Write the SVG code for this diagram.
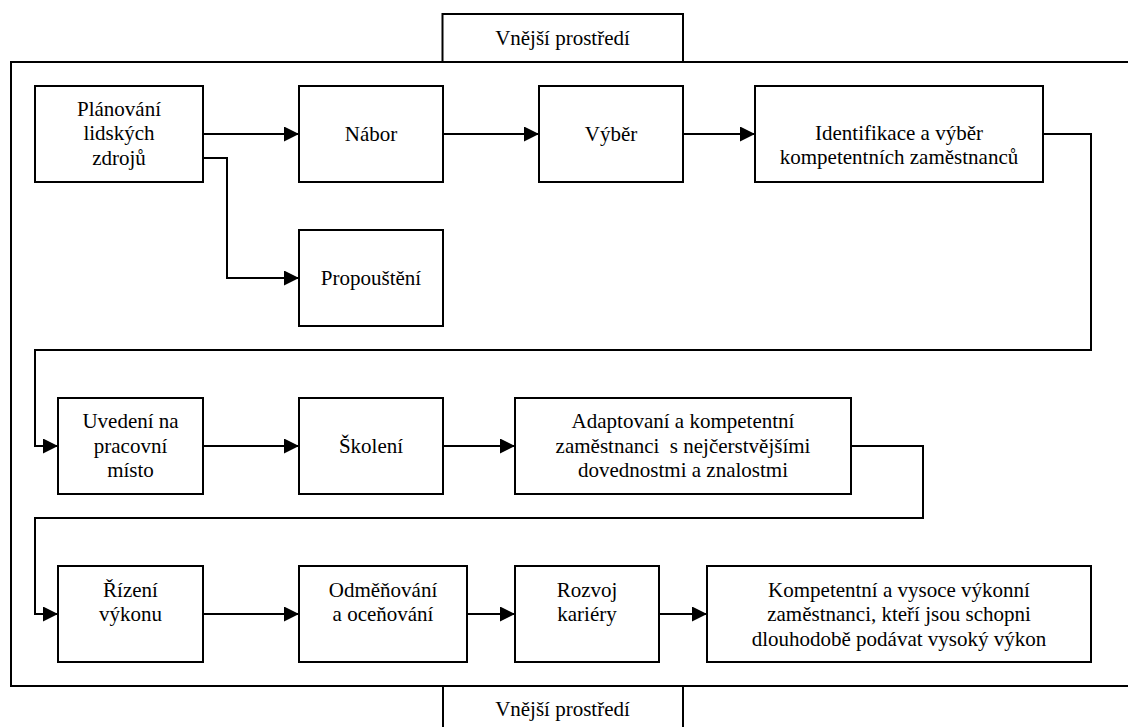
<svg xmlns="http://www.w3.org/2000/svg" width="1128" height="727" viewBox="0 0 1128 727">
<style>
.box{fill:#fff;stroke:#000;stroke-width:2}
.frame{fill:none;stroke:#000;stroke-width:2}
.conn{fill:none;stroke:#000;stroke-width:2;marker-end:url(#arr)}
.plain{fill:none;stroke:#000;stroke-width:2}
</style>
<defs>
<marker id="arr" markerUnits="userSpaceOnUse" markerWidth="16" markerHeight="16" refX="15" refY="7.5" orient="auto">
<path d="M0,0 L15,7.5 L0,15 Z" fill="#000"/>
</marker>
</defs>
<rect width="1128" height="727" fill="#fff"/>
<g font-family="'Liberation Serif', 'DejaVu Serif', serif" font-size="21" text-anchor="middle" fill="#000">
<g id="environment">
<path class="frame" d="M1140,62 H11 V686 H1140"/>
<g id="env-top">
<rect class="box" x="442.5" y="14" width="240.5" height="48"/>
<text x="562.5" y="45">Vnější prostředí</text>
</g>
<g id="env-bottom">
<path class="frame" d="M443,686 V740 M683,686 V740"/>
<text x="562.5" y="716">Vnější prostředí</text>
</g>
</g>
<g id="connectors">
<path class="conn" d="M203,134 H299"/>
<path class="plain" d="M203,158 H227 V278"/>
<path class="conn" d="M226,278 H299"/>
<path class="conn" d="M443,134 H539"/>
<path class="conn" d="M683,134 H755"/>
<path class="conn" d="M1043,134 H1091 V350 H35 V446 H58"/>
<path class="conn" d="M203,446 H299"/>
<path class="conn" d="M443,446 H515"/>
<path class="conn" d="M851,446 H923 V518 H35 V614 H58"/>
<path class="conn" d="M203,614 H299"/>
<path class="conn" d="M467,614 H515"/>
<path class="conn" d="M659,614 H707"/>
</g>
<g id="planovani">
<rect class="box" x="35" y="86" width="168" height="96"/>
<text x="119" y="116">Plánování</text>
<text x="119" y="140">lidských</text>
<text x="119" y="165">zdrojů</text>
</g>
<g id="nabor">
<rect class="box" x="299" y="86" width="144" height="96"/>
<text x="371" y="141">Nábor</text>
</g>
<g id="vyber">
<rect class="box" x="539" y="86" width="144" height="96"/>
<text x="611" y="141">Výběr</text>
</g>
<g id="identifikace">
<rect class="box" x="755" y="86" width="288" height="96"/>
<text x="899" y="140">Identifikace a výběr</text>
<text x="899" y="164">kompetentních zaměstnanců</text>
</g>
<g id="propousteni">
<rect class="box" x="299" y="230" width="144" height="96"/>
<text x="371" y="285">Propouštění</text>
</g>
<g id="uvedeni">
<rect class="box" x="58" y="398" width="145" height="96"/>
<text x="130.5" y="428">Uvedení na</text>
<text x="130.5" y="452.5">pracovní</text>
<text x="130.5" y="477">místo</text>
</g>
<g id="skoleni">
<rect class="box" x="299" y="398" width="144" height="96"/>
<text x="371" y="452.5">Školení</text>
</g>
<g id="adaptovani">
<rect class="box" x="515" y="398" width="336" height="96"/>
<text x="683" y="428">Adaptovaní a kompetentní</text>
<text x="683" y="452.5" xml:space="preserve">zaměstnanci  s nejčerstvějšími</text>
<text x="683" y="477">dovednostmi a znalostmi</text>
</g>
<g id="rizeni">
<rect class="box" x="58" y="566" width="145" height="96"/>
<text x="130.5" y="597">Řízení</text>
<text x="130.5" y="621">výkonu</text>
</g>
<g id="odmenovani">
<rect class="box" x="299" y="566" width="168" height="96"/>
<text x="383" y="597">Odměňování</text>
<text x="383" y="621">a oceňování</text>
</g>
<g id="rozvoj">
<rect class="box" x="515" y="566" width="144" height="96"/>
<text x="587" y="597">Rozvoj</text>
<text x="587" y="621">kariéry</text>
</g>
<g id="kompetentni">
<rect class="box" x="707" y="566" width="384" height="96"/>
<text x="899" y="597">Kompetentní a vysoce výkonní</text>
<text x="899" y="621">zaměstnanci, kteří jsou schopni</text>
<text x="899" y="646">dlouhodobě podávat vysoký výkon</text>
</g>
</g>
</svg>
